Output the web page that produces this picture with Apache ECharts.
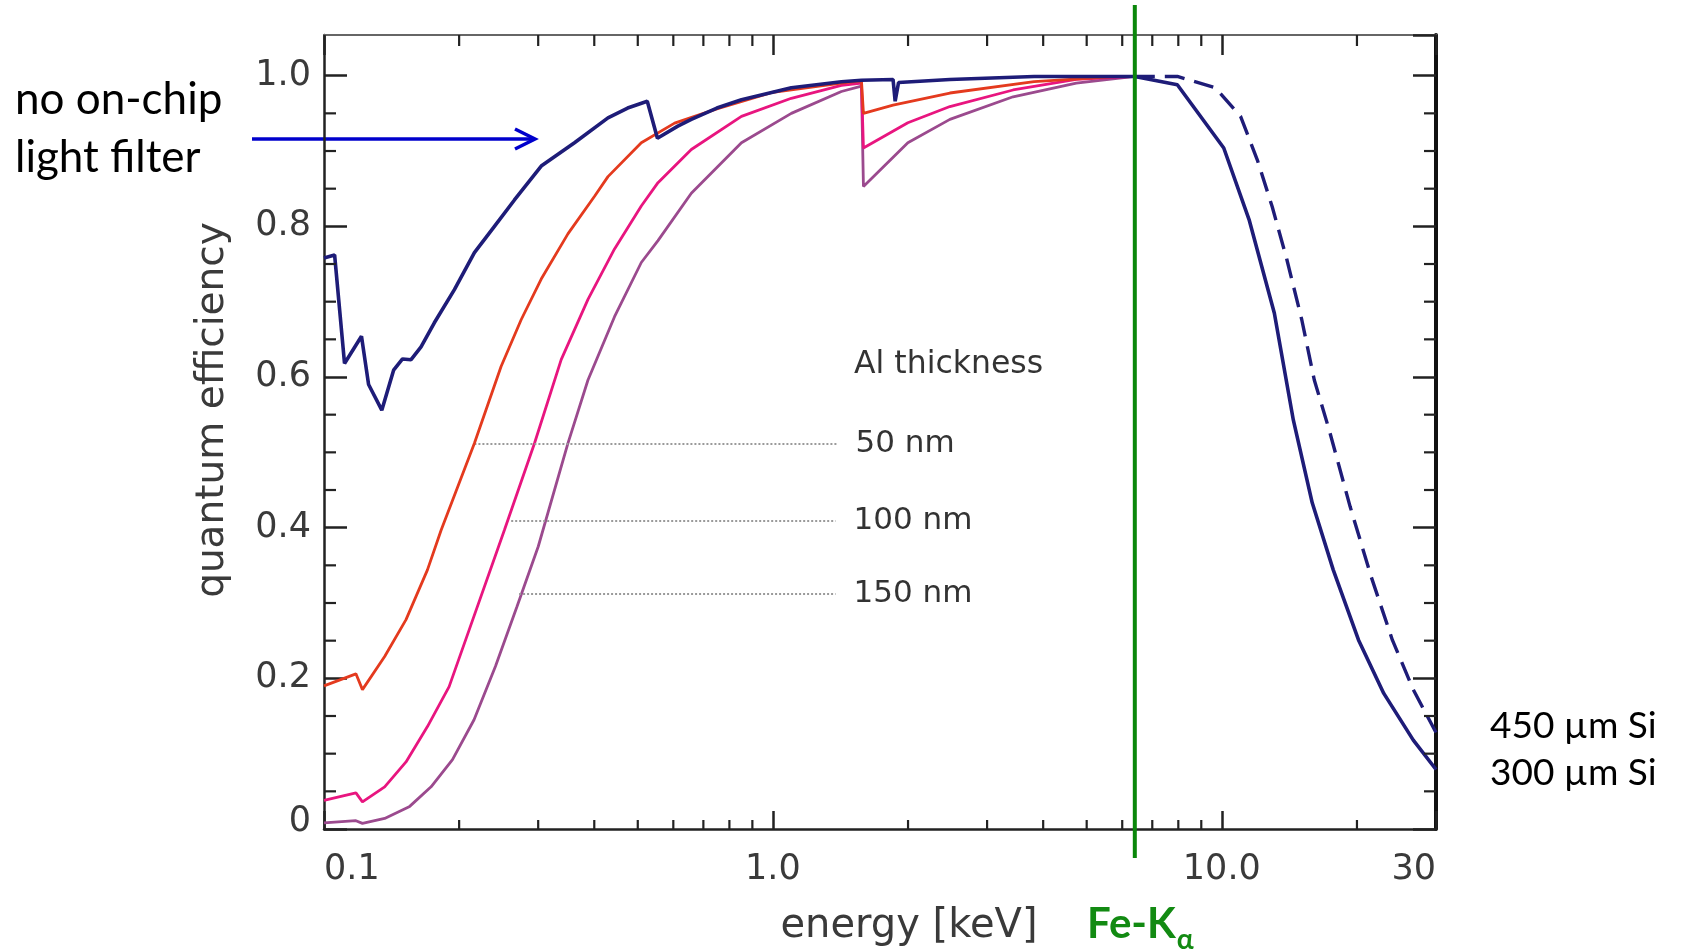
<!DOCTYPE html>
<html><head><meta charset="utf-8">
<script src="https://cdn.jsdelivr.net/npm/echarts@6/dist/echarts.min.js"></script>
<style>html,body{margin:0;padding:0;background:#fff}#c{width:1681px;height:950px}</style>
</head><body><div id="c"></div>
<script>
// ---------- data ----------
const xTickValues = [0.1, 1, 10, 30];
const xTickLabels = ['0.1', '1.0', '10.0', '30'];
const xMinorTicks = [0.2, 0.3, 0.4, 0.5, 0.6, 0.7, 0.8, 0.9, 2, 3, 4, 5, 6, 7, 8, 9, 20];
const yTickValues = [0, 0.2, 0.4, 0.6, 0.8, 1.0];
const yTickLabels = ['0', '0.2', '0.4', '0.6', '0.8', '1.0'];
const yMinorTicks = [0.05, 0.1, 0.15, 0.25, 0.3, 0.35, 0.45, 0.5, 0.55, 0.65, 0.7, 0.75, 0.85, 0.9, 0.95];

const X_MIN = 0.1, X_MAX = 30, Y_MIN = 0, Y_MAX = 1.054;

// no on-chip light filter, 300 um Si (solid)
const energyNoFilter = [0.1, 0.1056, 0.1111, 0.1212, 0.1257, 0.1345, 0.1429, 0.1496, 0.1563, 0.1645, 0.1761, 0.1952, 0.2163, 0.2397, 0.2656, 0.3047, 0.3614, 0.4291, 0.4747, 0.525, 0.553, 0.614, 0.658, 0.75, 0.851, 1.099, 1.421, 1.575, 1.852, 1.872, 1.905, 2.479, 3.819, 6.4, 7.96, 10.1, 11.5, 13.09, 14.43, 15.9, 17.71, 20.16, 22.95, 26.7, 30];
const qeNoFilter = [0.758, 0.762, 0.618, 0.654, 0.590, 0.556, 0.609, 0.624, 0.623, 0.640, 0.672, 0.716, 0.765, 0.800, 0.835, 0.880, 0.911, 0.944, 0.957, 0.966, 0.917, 0.933, 0.942, 0.957, 0.968, 0.984, 0.992, 0.994, 0.995, 0.966, 0.991, 0.995, 0.999, 0.999, 0.988, 0.904, 0.809, 0.685, 0.543, 0.433, 0.344, 0.251, 0.180, 0.118, 0.079];

// 450 um Si (dashed, high-energy part)
const energy450 = [6.4, 7.96, 9.67, 11.01, 12.0, 12.95, 13.96, 15.07, 16.07, 17.34, 19.31, 21.51, 23.98, 26.7, 30];
const qe450 = [0.999, 0.999, 0.984, 0.946, 0.888, 0.826, 0.756, 0.676, 0.596, 0.530, 0.428, 0.335, 0.251, 0.185, 0.128];

// Al 50 nm
const energyAl50 = [0.1, 0.1178, 0.1218, 0.1365, 0.1523, 0.17, 0.1824, 0.2163, 0.248, 0.2749, 0.3047, 0.3494, 0.4006, 0.4291, 0.5091, 0.604, 0.75, 1.0, 1.421, 1.575, 1.591, 1.852, 2.479, 3.819, 5.886, 6.4];
const qeAl50 = [0.190, 0.206, 0.185, 0.229, 0.278, 0.344, 0.397, 0.512, 0.614, 0.676, 0.730, 0.790, 0.840, 0.866, 0.911, 0.937, 0.956, 0.978, 0.990, 0.993, 0.950, 0.961, 0.977, 0.992, 0.999, 0.999];

// Al 100 nm
const energyAl100 = [0.1, 0.1178, 0.1218, 0.1365, 0.1523, 0.17, 0.19, 0.2119, 0.2523, 0.2944, 0.3376, 0.3873, 0.4438, 0.5091, 0.5546, 0.658, 0.851, 1.099, 1.421, 1.575, 1.591, 1.998, 2.479, 3.428, 4.74, 6.4];
const qeAl100 = [0.038, 0.048, 0.036, 0.056, 0.089, 0.136, 0.189, 0.269, 0.397, 0.512, 0.623, 0.703, 0.770, 0.827, 0.858, 0.902, 0.946, 0.970, 0.987, 0.990, 0.904, 0.9375, 0.959, 0.981, 0.995, 0.999];

// Al 150 nm
const energyAl150 = [0.1, 0.1178, 0.1218, 0.1365, 0.1552, 0.1732, 0.1933, 0.2159, 0.241, 0.269, 0.3001, 0.3494, 0.3873, 0.4438, 0.5091, 0.5546, 0.658, 0.851, 1.099, 1.421, 1.575, 1.591, 1.998, 2.479, 3.428, 4.74, 6.4];
const qeAl150 = [0.008, 0.011, 0.0075, 0.014, 0.030, 0.056, 0.092, 0.145, 0.216, 0.295, 0.375, 0.512, 0.596, 0.680, 0.752, 0.781, 0.844, 0.911, 0.950, 0.979, 0.986, 0.853, 0.911, 0.942, 0.972, 0.990, 0.999];

// leader lines for Al thickness labels
const leaderLabels = ['50 nm', '100 nm', '150 nm'];
const leaderY = [0.511, 0.409, 0.312];
const leaderStartE = [0.2163, 0.2612, 0.272];
const leaderEndE = [1.393, 1.379, 1.379];

const FE_KA_ENERGY = 6.4;

// ---------- chart ----------
const zip = (a, b) => a.map((v, i) => [v, b[i]]);
const TXT = 'DejaVu Sans';
const xLabel = v => {
  const i = xTickValues.findIndex(t => Math.abs(Math.log10(t) - Math.log10(v)) < 1e-6);
  return i >= 0 ? xTickLabels[i] : '';
};
const yLabel = v => {
  const i = yTickValues.findIndex(t => Math.abs(t - v) < 1e-6);
  if (i < 0) return '';
  return i === 0 ? '{z|' + yTickLabels[i] + '}' : yTickLabels[i];
};
function leader(i) {
  return {
    silent: true, symbol: ['none', 'none'], animation: false,
    lineStyle: { type: 'dotted', color: '#9a9a9a', width: 2 },
    label: { show: true, position: 'end', distance: 18, formatter: leaderLabels[i],
      fontFamily: TXT, fontSize: 31, color: '#333' },
    emphasis: { disabled: true },
    data: [[{ coord: [leaderStartE[i], leaderY[i]] }, { coord: [leaderEndE[i], leaderY[i]] }]]
  };
}
const lineBase = { type: 'line', showSymbol: false, symbol: 'none', smooth: false, silent: true, animation: false };

const chart = echarts.init(document.getElementById('c'), null, { renderer: 'canvas' });
chart.setOption({
  animation: false,
  backgroundColor: '#fff',
  grid: { left: 324, right: 245, top: 35, bottom: 121, containLabel: false, outerBoundsMode: 'none',
    show: false },
  xAxis: [
    { type: 'log', logBase: 10, min: X_MIN, max: X_MAX, position: 'bottom',
      axisLine: { show: true, onZero: false, lineStyle: { color: '#222', width: 2.5 } },
      axisTick: { show: true, inside: true, length: 18, lineStyle: { color: '#222', width: 2.5 } },
      minorTick: { show: false },
      splitLine: { show: false },
      axisLabel: { show: true, formatter: xLabel, fontFamily: TXT, fontSize: 35, color: '#3a3a3a', margin: 23,
        alignMinLabel: 'left', alignMaxLabel: 'right', showMinLabel: true, showMaxLabel: true },
      name: 'energy [keV]', nameLocation: 'middle', nameGap: 78,
      nameTextStyle: { fontFamily: TXT, fontSize: 40, color: '#3a3a3a', padding: [0, 0, 0, 58] } },
    { type: 'log', logBase: 10, min: X_MIN, max: X_MAX, position: 'top',
      axisLine: { show: true, onZero: false, lineStyle: { color: '#666', width: 2 } },
      axisTick: { show: true, inside: true, length: 20, lineStyle: { color: '#222', width: 2.5 } },
      splitLine: { show: false }, axisLabel: { show: false } }
  ],
  yAxis: [
    { type: 'value', min: Y_MIN, max: Y_MAX, interval: 0.2, position: 'left',
      axisLine: { show: true, onZero: false, lineStyle: { color: '#222', width: 2.5 } },
      axisTick: { show: true, inside: true, length: 23, lineStyle: { color: '#222', width: 2.5 } },
      splitLine: { show: false },
      axisLabel: { show: true, formatter: yLabel, fontFamily: TXT, fontSize: 35, color: '#3a3a3a', margin: 13,
        showMaxLabel: false,
        rich: { z: { fontFamily: TXT, fontSize: 35, color: '#3a3a3a', padding: [0, 0, 15, 0] } } },
      name: 'quantum efficiency', nameLocation: 'middle', nameGap: 92, nameRotate: 90,
      nameTextStyle: { fontFamily: TXT, fontSize: 39, color: '#3a3a3a', padding: [0, 0, 0, 44] } },
    { type: 'value', min: Y_MIN, max: Y_MAX, interval: 0.2, position: 'right',
      axisLine: { show: true, onZero: false, lineStyle: { color: '#111', width: 4 } },
      axisTick: { show: true, inside: true, length: 23, lineStyle: { color: '#222', width: 2.5 } },
      splitLine: { show: false }, axisLabel: { show: false } }
  ],
  graphic: [
    { type: 'text', left: 15, top: 71, silent: true,
      style: { text: 'no on-chip\nlight filter', font: '44px Lato', fill: '#000', lineHeight: 58 } },
    { type: 'polyline', silent: true, shape: { points: [[252, 139], [533, 139]] },
      style: { stroke: '#0000cc', lineWidth: 3.5, fill: null } },
    { type: 'polyline', silent: true, shape: { points: [[515, 129], [535, 139], [515, 149]] },
      style: { stroke: '#0000cc', lineWidth: 3.5, fill: null, lineJoin: 'miter' } },
    { type: 'text', left: 1490, top: 703, silent: true,
      style: { text: '450 µm Si\n300 µm Si', font: '37px Lato', fill: '#000', lineHeight: 47 } },
    { type: 'text', left: 854, top: 349, silent: true,
      style: { text: 'Al thickness', font: '31.5px "DejaVu Sans"', fill: '#333' } }
  ],
  series: [
    Object.assign({}, lineBase, { name: 'Al 150 nm', data: zip(energyAl150, qeAl150), z: 3,
      lineStyle: { color: '#9b4a8e', width: 2.8 }, markLine: leader(2) }),
    Object.assign({}, lineBase, { name: 'Al 100 nm', data: zip(energyAl100, qeAl100), z: 4,
      lineStyle: { color: '#e8157f', width: 2.8 }, markLine: leader(1) }),
    Object.assign({}, lineBase, { name: 'Al 50 nm', data: zip(energyAl50, qeAl50), z: 5,
      lineStyle: { color: '#e43a1e', width: 2.8 }, markLine: leader(0) }),
    Object.assign({}, lineBase, { name: '450 µm Si', data: zip(energy450, qe450), z: 6,
      lineStyle: { color: '#1e1c78', width: 3.4, type: [20, 10] } }),
    Object.assign({}, lineBase, { name: 'no on-chip light filter', data: zip(energyNoFilter, qeNoFilter), z: 7,
      lineStyle: { color: '#1e1c78', width: 3.6 } }),
    // minor ticks on x (bottom + top)
    { type: 'custom', silent: true, z: 8, clip: false, animation: false,
      data: xMinorTicks.map(e => [e, Y_MIN]),
      renderItem: (params, api) => {
        const cs = params.coordSys;
        const x = api.coord([api.value(0), api.value(1)])[0];
        const b = cs.y + cs.height, t = cs.y;
        return { type: 'group', children: [
          { type: 'line', shape: { x1: x, y1: b, x2: x, y2: b - 9 }, style: { stroke: '#222', lineWidth: 2.2 } },
          { type: 'line', shape: { x1: x, y1: t, x2: x, y2: t + 11 }, style: { stroke: '#222', lineWidth: 2.2 } }
        ] };
      } },
    // minor ticks on y (left + right)
    { type: 'custom', silent: true, z: 8, clip: false, animation: false,
      data: yMinorTicks.map(v => [X_MIN, v]),
      renderItem: (params, api) => {
        const cs = params.coordSys;
        const y = api.coord([api.value(0), api.value(1)])[1];
        const l = cs.x, r = cs.x + cs.width;
        return { type: 'group', children: [
          { type: 'line', shape: { x1: l, y1: y, x2: l + 12, y2: y }, style: { stroke: '#222', lineWidth: 2.2 } },
          { type: 'line', shape: { x1: r, y1: y, x2: r - 12, y2: y }, style: { stroke: '#222', lineWidth: 2.2 } }
        ] };
      } },
    // Fe-K alpha marker
    { type: 'custom', silent: true, z: 10, clip: false, animation: false,
      data: [[FE_KA_ENERGY, Y_MIN]],
      renderItem: (params, api) => {
        const cs = params.coordSys;
        const x = api.coord([api.value(0), api.value(1)])[0];
        const t = cs.y, b = cs.y + cs.height;
        return { type: 'group', children: [
          { type: 'line', shape: { x1: x, y1: t - 30, x2: x, y2: b + 29 }, style: { stroke: '#0a870a', lineWidth: 4 } },
          { type: 'text', x: x + 41, y: b + 95,
            style: { text: 'Fe-K', font: 'bold 42px Lato', fill: '#128a12', align: 'right', verticalAlign: 'middle' } },
          { type: 'text', x: x + 42, y: b + 111,
            style: { text: 'α', font: 'bold 28px Lato', fill: '#128a12', align: 'left', verticalAlign: 'middle' } }
        ] };
      } }
  ]
});
</script></body></html>
